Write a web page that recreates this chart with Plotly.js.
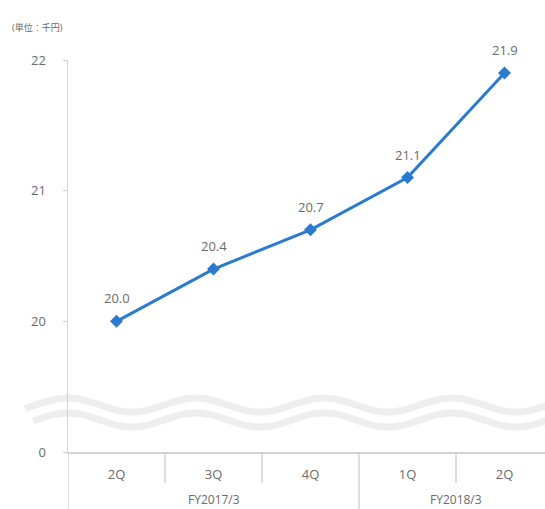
<!DOCTYPE html>
<html><head><meta charset="utf-8">
<script src="https://cdn.plot.ly/plotly-3.0.1.min.js"></script>
<style>html,body{margin:0;padding:0;background:#fff;overflow:hidden}</style>
</head><body><div id="chart" style="width:545px;height:509px"></div>
<script>
const quarters = ['2Q','3Q','4Q','1Q','2Q'];
const groups = ['FY2017/3','FY2018/3'];
const groupSizes = [3, 2];
const values = [20.0, 20.4, 20.7, 21.1, 21.9];
const yTickVals = [19, 20, 21, 22];
const yTickText = ['0', '20', '21', '22'];
const unitLabel = '(単位：千円)';

const xs = quarters.map((_, i) => i);
const gray = '#6a6a6a';
const font = '"Open Sans", "Noto Sans CJK JP", sans-serif';

const W = 545, H = 509, L = 68, T = 60, B = 57;
const pw = W - L, ph = H - T - B;
const px = v => (v - L) / pw;
const py = v => (H - B - v) / ph;

function wave(yc, x0, x1) {
  let d = '';
  for (let x = x0; x <= x1; x += 3) {
    const y = yc - 7 * Math.cos(2 * Math.PI * (x - 68) / 128);
    d += (d ? ' L' : 'M') + px(x).toFixed(4) + ',' + py(y).toFixed(4);
  }
  return d;
}

const shapes = [
  {type:'path', xref:'paper', yref:'paper', path: wave(405, 25, 548), line:{color:'#eeeeee', width:7}, layer:'below'},
  {type:'path', xref:'paper', yref:'paper', path: wave(420, 33, 548), line:{color:'#eeeeee', width:7}, layer:'below'}
];
let idx = 0;
const boundaries = [];
groupSizes.forEach((n, g) => { for (let k = 0; k < n; k++) { idx++; if (idx < quarters.length) boundaries.push({pos: idx - 0.5, group: k === n - 1}); } });
boundaries.forEach(b => {
  shapes.push({type:'line', xref:'x', yref:'paper', x0:b.pos, x1:b.pos, y0:0, y1: b.group ? -B/ph : -31/ph, line:{color:'#cccccc', width:1.3}});
});
shapes.push({type:'line', xref:'x', yref:'paper', x0:-0.5, x1:-0.5, y0:0, y1:-B/ph, line:{color:'#d4d4d4', width:1.3}});

const annotations = [];
values.forEach((v, i) => annotations.push({x:i, y:v, text:v.toFixed(1), showarrow:false, yshift:23, font:{family:font, size:13, color:gray}}));
let start = 0;
groups.forEach((g, k) => {
  const n = groupSizes[k];
  annotations.push({x:start + (n - 1) / 2, y:-47/ph, xref:'x', yref:'paper', yanchor:'middle', text:g, showarrow:false, font:{family:font, size:12, color:gray}});
  start += n;
});
annotations.push({x:px(10), y:py(28), xref:'paper', yref:'paper', xanchor:'left', yanchor:'middle', text:unitLabel, showarrow:false, font:{family:font, size:9, color:gray}});

const trace = {
  x: xs, y: values, type:'scatter', mode:'lines+markers',
  line:{color:'#2a7bcf', width:3},
  marker:{symbol:'diamond', size:10, color:'#2a7bcf'},
  hoverinfo:'skip', cliponaxis:false
};

const layout = {
  width: W, height: H,
  margin:{l:L, r:0, t:T, b:B},
  paper_bgcolor:'#fff', plot_bgcolor:'#fff',
  showlegend:false,
  xaxis:{range:[-0.5, (W - L) / 97 - 0.5], tickvals:xs, ticktext:quarters, showgrid:false, zeroline:false,
    showline:true, linecolor:'#d4d4d4', linewidth:1.5, ticks:'', ticklabelstandoff:10,
    tickfont:{family:font, size:13, color:gray}, fixedrange:true},
  yaxis:{range:[19, 22], tickvals:yTickVals, ticktext:yTickText, showgrid:false, zeroline:false,
    showline:true, linecolor:'#d4d4d4', linewidth:1.5, ticks:'outside', ticklen:4, tickcolor:'#cccccc',
    ticklabelstandoff:14, tickfont:{family:font, size:13, color:gray}, fixedrange:true},
  shapes, annotations
};
Plotly.newPlot('chart', [trace], layout, {displayModeBar:false, staticPlot:true});
</script></body></html>
